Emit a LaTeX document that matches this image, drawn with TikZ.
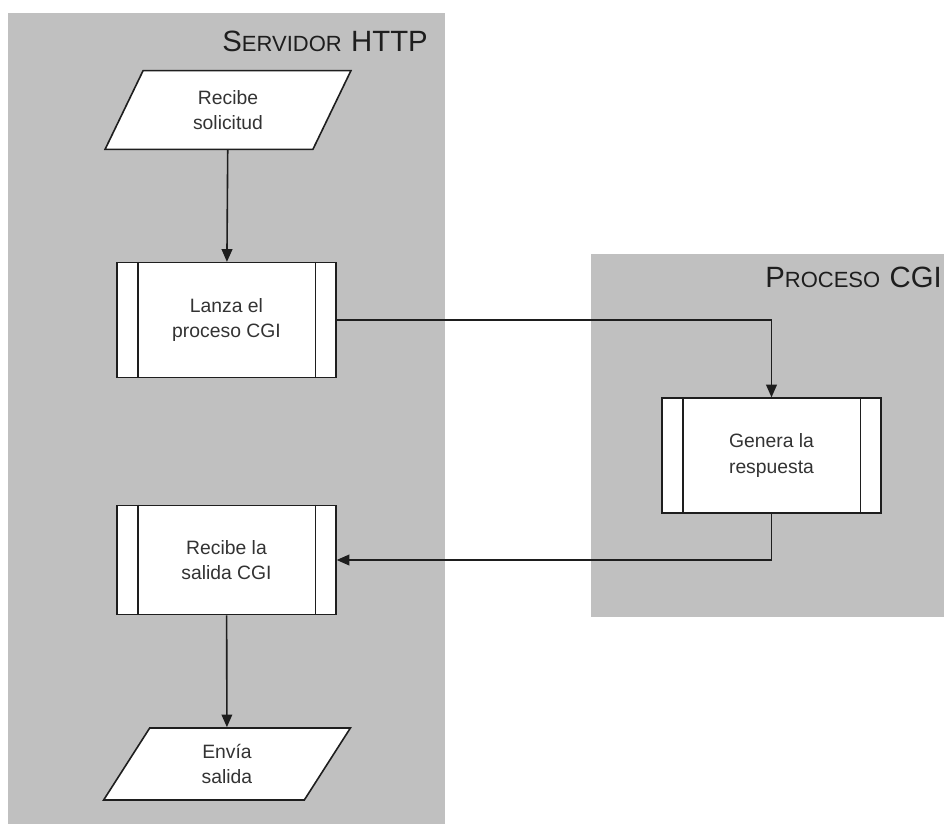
\documentclass[tikz,border=0pt]{standalone}
\usepackage{fontspec}
\setmainfont{Liberation Sans}
\usetikzlibrary{arrows.meta, shapes.geometric}
\definecolor{lane}{HTML}{C0C0C0}
\definecolor{ink}{HTML}{1E1E1E}
\definecolor{txt}{HTML}{333333}
\newcommand{\capsc}[2]{{\fontsize{22}{26}\selectfont #1}{\fontsize{16.5}{19}\selectfont #2}}

\begin{document}
\begin{tikzpicture}[x=0.75pt, y=-0.75pt,
      lanebox/.style={fill=lane, draw=none},
      title/.style={anchor=base east, text=ink, inner sep=0pt},
      io/.style={trapezium, trapezium left angle=70, trapezium right angle=110,
                 trapezium stretches=true, draw=ink, line width=1.2pt, fill=white,
                 minimum width=186pt, minimum height=59pt, align=center, text=txt,
                 font=\fontsize{14.5}{19}\selectfont},
      proc/.style={rectangle, draw=ink, line width=1.2pt, fill=white,
                   minimum width=164pt, minimum height=86pt, align=center, text=txt,
                   font=\fontsize{14.5}{19}\selectfont},
      arr/.style={-{Triangle[length=9.5pt, width=8pt]}, line width=1.2pt, ink}]
    \useasboundingbox (0,0) rectangle (944,824);
    % lanes
    \fill[lanebox] (8,13) rectangle (445,824);
    \fill[lanebox] (591,254) rectangle (944,617);
    \node[title] (srv) at (428,51) {\capsc{S}{ERVIDOR}\hspace{7pt}\capsc{HTTP}{}};
    \node[title] (cgi) at (942,287) {\capsc{P}{ROCESO}\hspace{7pt}\capsc{CGI}{}};
    % steps
    \node[io] (sol) at (228,110) {Recibe\\solicitud};
    \node[proc] (lanza) at (226.5,320) {Lanza el\\proceso CGI};
    \node[proc] (genera) at (771.5,455.5) {Genera la\\respuesta};
    \node[proc, minimum height=82pt] (salida) at (226.5,560) {Recibe la\\salida CGI};
    \node[io, minimum height=54pt] (envia) at (227,764) {Envía\\salida};
    \foreach \n in {lanza, genera, salida} {
      \draw[ink, line width=1.2pt] ([xshift=16pt]\n.north west) -- ([xshift=16pt]\n.south west);
      \draw[ink, line width=1.2pt] ([xshift=-16pt]\n.north east) -- ([xshift=-16pt]\n.south east);
    }
    % flow
    \draw[arr] (sol) -- (lanza);
    \draw[arr] (lanza.east) -| (genera.north);
    \draw[arr] (genera.south) |- (salida.east);
    \draw[arr] (salida) -- (envia);
\end{tikzpicture}
\end{document}
